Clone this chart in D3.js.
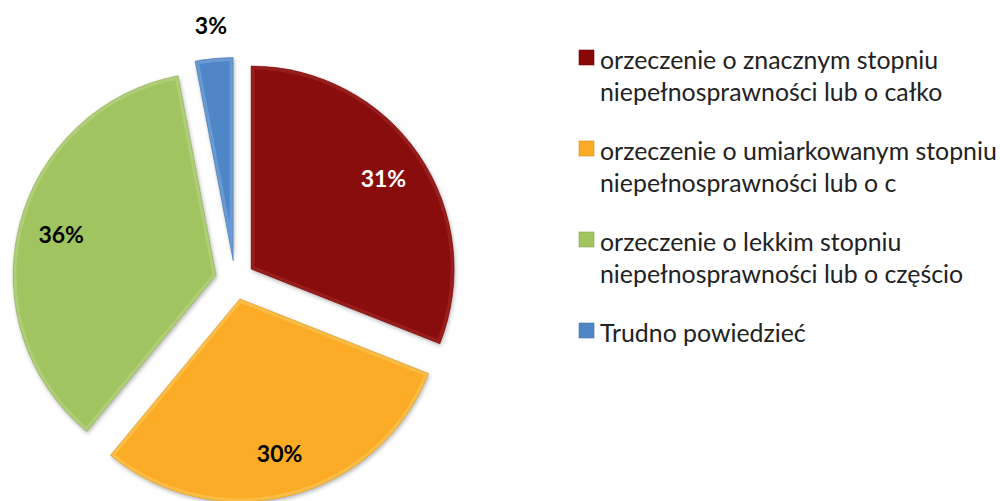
<!DOCTYPE html>
<html><head><meta charset="utf-8">
<script src="https://cdn.jsdelivr.net/npm/d3@7"></script>
<style>body{margin:0;background:#fff;}svg{display:block;}</style>
</head><body>
<svg id="c" width="1000" height="501"></svg>
<script>
const categories = [
  ["orzeczenie o znacznym stopniu", "niepełnosprawności lub o całko"],
  ["orzeczenie o umiarkowanym stopniu", "niepełnosprawności lub o c"],
  ["orzeczenie o lekkim stopniu", "niepełnosprawności lub o częścio"],
  ["Trudno powiedzieć"]
];
const values = [31, 30, 36, 3];
const labels = ["31%", "30%", "36%", "3%"];
const colors = ["#8a0707", "#fbab25", "#a0c45e", "#4f86c8"];
const edgeColors = ["#a83434", "#fdd36a", "#c4dc95", "#8cb4e2"];
const labelColors = ["#ffffff", "#000000", "#000000", "#000000"];

const svg = d3.select("#c");
const cx = 235, cy = 280, R = 203, explode = 19.5, labelR = 160, outsideR = 236;
const font = "Lato, 'Open Sans', sans-serif";

const defs = svg.append("defs");
const shadow = defs.append("filter").attr("id", "sh").attr("x", "-20%").attr("y", "-20%").attr("width", "140%").attr("height", "140%");
shadow.append("feDropShadow").attr("dx", 1).attr("dy", 2).attr("stdDeviation", 2).attr("flood-color", "#000").attr("flood-opacity", 0.3);

const pie = d3.pie().sort(null).value(d => d);
const arcs = pie(values);
const arc = d3.arc().innerRadius(0).outerRadius(R);
const lab = d3.arc().innerRadius(labelR).outerRadius(labelR);
const labOut = d3.arc().innerRadius(outsideR).outerRadius(outsideR);

const g = svg.append("g").attr("transform", `translate(${cx},${cy})`);
arcs.forEach((a, i) => {
  const mid = (a.startAngle + a.endAngle) / 2;
  const ox = Math.sin(mid) * explode, oy = -Math.cos(mid) * explode;
  const sg = g.append("g").attr("transform", `translate(${ox},${oy})`);
  const cp = defs.append("clipPath").attr("id", "cp" + i);
  cp.append("path").attr("d", arc(a));
  sg.append("path").attr("d", arc(a)).attr("fill", colors[i]).attr("filter", "url(#sh)");
  sg.append("path").attr("d", arc(a)).attr("fill", "none").attr("stroke", edgeColors[i])
    .attr("stroke-width", 7).attr("stroke-opacity", 0.45).attr("stroke-linejoin", "round")
    .attr("clip-path", `url(#cp${i})`);
  sg.append("path").attr("d", arc(a)).attr("fill", "none").attr("stroke", d3.color(colors[i]).darker(0.6))
    .attr("stroke-width", 0.8).attr("stroke-opacity", 0.6);
  const inside = values[i] >= 10;
  const p = inside ? lab.centroid(a) : labOut.centroid(a);
  sg.append("text").attr("x", p[0]).attr("y", p[1]).attr("dy", "0.35em")
    .attr("text-anchor", "middle").attr("font-family", font).attr("font-weight", "bold")
    .attr("font-size", 23).attr("fill", labelColors[i]).text(labels[i]);
});

// legend
const lg = svg.append("g");
const lx = 579, ly0 = 69, lstep = 91, lineH = 32;
const probe = lg.append("text").attr("font-family", font).attr("font-size", 20).text(categories[1][0]);
const w20 = probe.node().getComputedTextLength();
probe.remove();
const fs = Math.min(26, 20 * 397 / w20);
categories.forEach((lines, i) => {
  const y = ly0 + i * lstep;
  lg.append("rect").attr("x", lx).attr("y", y - 19).attr("width", 15).attr("height", 15)
    .attr("fill", colors[i]).attr("stroke", d3.color(colors[i]).darker(0.5)).attr("stroke-width", 0.6);
  const t = lg.append("text").attr("font-family", font).attr("font-size", fs).attr("fill", "#222");
  lines.forEach((ln, j) => {
    t.append("tspan").attr("x", lx + 21).attr("y", y + j * lineH).text(ln);
  });
});
</script>
</body></html>
